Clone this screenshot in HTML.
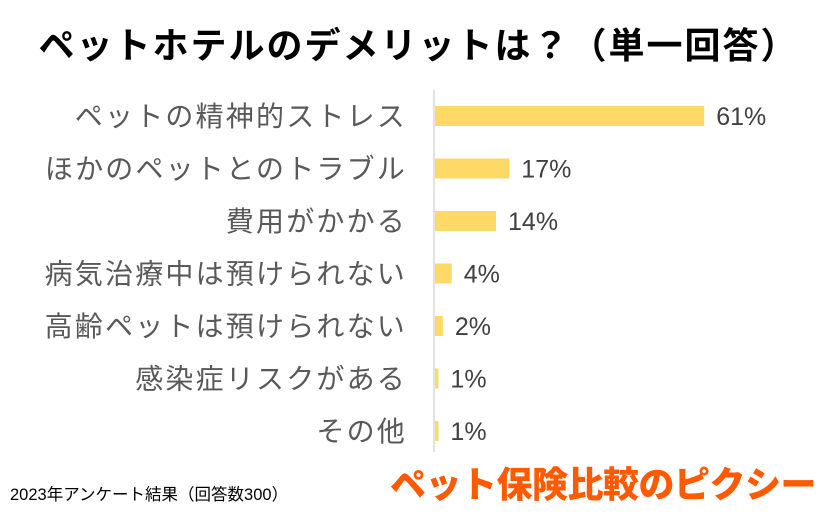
<!DOCTYPE html>
<html><head><meta charset="utf-8"><style>
body{margin:0;width:837px;height:514px;background:#fff;overflow:hidden;font-family:"Liberation Sans","Noto Sans CJK JP",sans-serif;position:relative}
#title{position:absolute;left:0;top:17px;width:837px;text-align:center;font-size:36px;font-weight:bold;color:#000;white-space:nowrap;letter-spacing:2px}
#foot{position:absolute;left:10px;top:481px;font-size:16.5px;color:#000;white-space:nowrap}
#logo{position:absolute;left:390px;top:456px;font-size:36px;font-weight:900;color:#ff5a00;letter-spacing:-0.5px;white-space:nowrap}
</style></head><body>
<div id="title">ペットホテルのデメリットは？（単一回答）</div>
<svg id="chart" width="837" height="514" style="position:absolute;left:0;top:0"></svg>
<div id="foot">2023年アンケート結果（回答数300）</div>
<div id="logo">ペット保険比較のピクシー</div>
<script>
const categories=["ペットの精神的ストレス","ほかのペットとのトラブル","費用がかかる","病気治療中は預けられない","高齢ペットは預けられない","感染症リスクがある","その他"];
const values=[61,17,14,4,2,1,1];
const svg=document.getElementById('chart');
const NS="http://www.w3.org/2000/svg";
const x0=434,pxPer=4.43,y0=116,step=52.5,bh=20;
const xs=v=>x0+v*pxPer;
const ys=i=>y0+i*step;
const ax=document.createElementNS(NS,'line');


ax.setAttribute('x1',x0);ax.setAttribute('x2',x0);ax.setAttribute('y1',90);ax.setAttribute('y2',452);
ax.setAttribute('stroke','#d9d9d9');ax.setAttribute('stroke-width','1.5');svg.appendChild(ax);
categories.forEach((c,i)=>{
 const y=ys(i);
 const t=document.createElementNS(NS,'text');
 
 
 t.setAttribute('x',407);t.setAttribute('y',y+10);t.setAttribute('text-anchor','end');
 t.setAttribute('font-size','28');t.setAttribute('fill','#595959');t.setAttribute('letter-spacing','2.2');
 t.textContent=c;svg.appendChild(t);
 const r=document.createElementNS(NS,'rect');
 
 
 r.setAttribute('x',x0+1);r.setAttribute('y',y-bh/2);r.setAttribute('width',Math.max(1,xs(values[i])-x0-1));r.setAttribute('height',bh);
 r.setAttribute('fill','#ffd966');svg.appendChild(r);
 const v=document.createElementNS(NS,'text');
 
 
 v.setAttribute('x',xs(values[i])+12);v.setAttribute('y',y+9);
 v.setAttribute('font-size','25');v.setAttribute('fill','#404040');
 v.textContent=values[i]+'%';svg.appendChild(v);
});
</script>
</body></html>
